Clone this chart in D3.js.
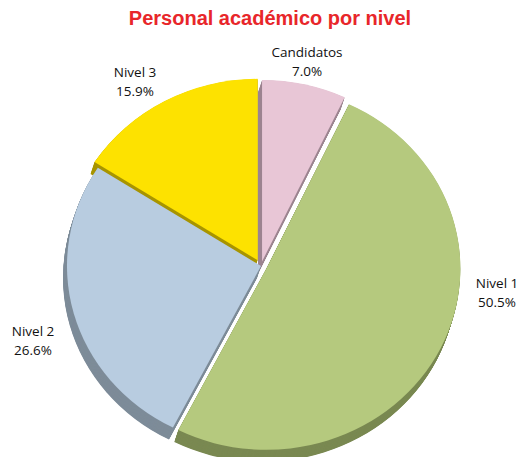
<!DOCTYPE html>
<html lang="es">
<head>
  <meta charset="UTF-8">
  <title>Personal académico por nivel</title>
  <style>
    body { margin: 0; background: #fff; }
    .title { font-family: "Liberation Sans", Arial, sans-serif; font-weight: bold; font-size: 20px; fill: #e8262a; }
    .lbl { font-family: "Open Sans", "Noto Sans", sans-serif; font-size: 13.5px; fill: #111; }
  </style>
</head>
<body>
  <svg id="chart" width="523" height="457"></svg>

  <script src="https://d3js.org/d3.v7.min.js"></script>
  <script>
    const categories = ['Candidatos', 'Nivel 1', 'Nivel 2', 'Nivel 3'];
    const values = [7.0, 50.5, 26.6, 15.9];

    const colors = ['#e8c6d6', '#b5c97e', '#b8cce0', '#fde200'];
    const sideColors = ['#9d8590', '#7a8952', '#7e8c99', '#a89500'];
    // explode distance per slice
    const explode = [5, 6, 0, 7];
    // label anchor points (x, y of first line)
    const labelPos = [[307, 57], [497, 288], [33, 336], [135, 77]];

    const svg = d3.select('#chart');
    const cx = 261, cy = 266, r = 194, sy = 0.935;
    const depth = 12, dx = -4;

    svg.append('text')
      .attr('class', 'title')
      .attr('x', 270)
      .attr('y', 25)
      .attr('text-anchor', 'middle')
      .text('Personal académico por nivel');

    const pie = d3.pie().sort(null).value(d => d.value);
    const arcs = pie(categories.map((c, i) => ({ name: c, value: values[i], i })));
    const arc = d3.arc().innerRadius(0).outerRadius(r);

    function offset(d) {
      const a = (d.startAngle + d.endAngle) / 2;
      const e = explode[d.data.i];
      return [Math.sin(a) * e, -Math.cos(a) * e * sy];
    }

    const g = svg.append('g');

    // extruded sides
    const steps = 24;
    for (let s = steps; s >= 1; s--) {
      const t = s / steps;
      g.append('g')
        .selectAll('path')
        .data(arcs)
        .enter().append('path')
        .attr('d', arc)
        .attr('fill', d => sideColors[d.data.i])
        .attr('transform', d => {
          const o = offset(d);
          return `translate(${cx + o[0] + dx * t},${cy + o[1] + depth * t}) scale(1,${sy})`;
        });
    }

    // top faces
    g.append('g')
      .selectAll('path')
      .data(arcs)
      .enter().append('path')
      .attr('d', arc)
      .attr('fill', d => colors[d.data.i])
      .attr('transform', d => {
        const o = offset(d);
        return `translate(${cx + o[0]},${cy + o[1]}) scale(1,${sy})`;
      });

    const labels = svg.append('g')
      .selectAll('text')
      .data(arcs)
      .enter().append('text')
      .attr('class', 'lbl')
      .attr('text-anchor', 'middle')
      .attr('transform', d => `translate(${labelPos[d.data.i][0]},${labelPos[d.data.i][1]})`);

    labels.append('tspan').attr('x', 0).attr('y', 0).text(d => d.data.name);
    labels.append('tspan').attr('x', 0).attr('y', 19).text(d => d.data.value.toFixed(1) + '%');
  </script>
</body>
</html>
